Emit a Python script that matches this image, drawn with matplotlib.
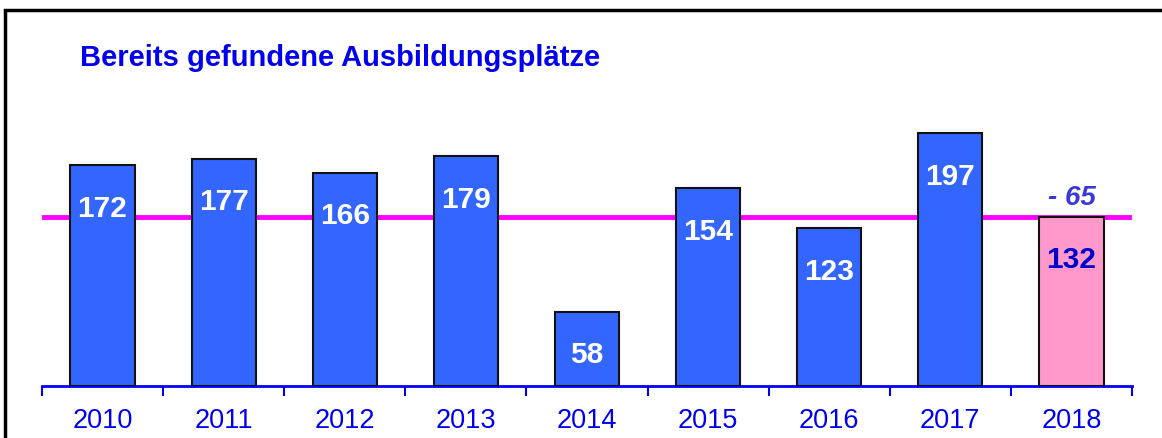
import matplotlib
matplotlib.use("Agg")
import matplotlib.pyplot as plt
from matplotlib.patches import Rectangle

plt.rcParams['font.family'] = ['Liberation Sans', 'DejaVu Sans']

# data
years = ['2010', '2011', '2012', '2013', '2014', '2015', '2016', '2017', '2018']
places = [172, 177, 166, 179, 58, 154, 123, 197, 132]
title = 'Bereits gefundene Ausbildungsplätze'

W, H = 1162, 439
fig = plt.figure(figsize=(W / 100, H / 100), dpi=100)

# axes placed in pixel terms: baseline at y=387, left 42, right 1132
ax = fig.add_axes([42 / W, (H - 387) / H, (1132 - 42) / W, (387 - 20) / H])

x = list(range(len(years)))
colors = ['#3366FF'] * (len(years) - 1) + ['#FF99CC']
ax.bar(x, places, width=0.53, color=colors, edgecolor='#111111', linewidth=1.5, zorder=3)

# reference line at the current year's value
ax.axhline(places[-1], color='#FF00FF', lw=3.5, zorder=2)

ax.set_xlim(-0.5, len(years) - 0.5)
ax.set_ylim(0, 286)

# value labels inside the bars
for i, v in enumerate(places):
    col = 'white' if i < len(places) - 1 else '#0000CC'
    ax.text(i, v - 33, str(v), ha='center', va='center', color=col,
            fontsize=21.5, fontweight='bold', zorder=4)

diff = places[-1] - places[-2]
ax.text(len(places) - 1, places[-1] + 15, '- %d' % abs(diff), ha='center', va='center',
        color='#3838D8', fontsize=20, fontweight='bold', fontstyle='italic', zorder=4)

# axis styling
for s in ['top', 'right', 'left']:
    ax.spines[s].set_visible(False)
ax.spines['bottom'].set_color('#0000FF')
ax.spines['bottom'].set_linewidth(2)
ax.set_yticks([])
ax.set_xticks(x)
ax.set_xticklabels(years, color='#0000EE', fontsize=19.5)
ax.tick_params(axis='x', which='major', length=0, pad=15)
ax.set_xticks([i - 0.5 for i in range(len(years) + 1)], minor=True)
ax.tick_params(axis='x', which='minor', length=7, width=1.5, color='#0000FF', direction='out')

fig.text(80 / W, 1 - 58 / H, title, color='#0000EE', fontsize=21, fontweight='bold',
         ha='left', va='center')

# outer frame (open at right and bottom, as cropped)
fig.patches.append(Rectangle((5 / W, -0.2), 1.2, 1.2 - 10.5 / H, transform=fig.transFigure,
                             fill=False, edgecolor='black', linewidth=2.5))

fig.savefig('out.png', dpi=100)
